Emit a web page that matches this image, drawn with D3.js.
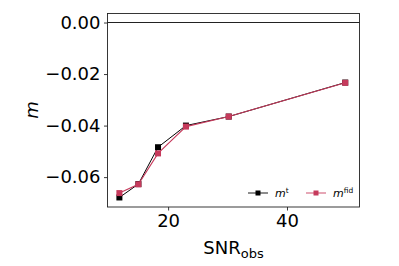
<!DOCTYPE html>
<head>
  <meta charset="utf-8">
  <style>
    body { margin: 0; background: #fff; }
    text { font-family: "DejaVu Sans", sans-serif; }
  </style>
  <title>m vs SNR</title>
</head>
<body>
  <script src="https://cdn.jsdelivr.net/npm/d3@7/dist/d3.min.js"></script>
  <script>
    // data
    var snr = [11.8, 15, 18.3, 23, 30.2, 49.8];
    var mTrue = [-0.0679, -0.0627, -0.0484, -0.0400, -0.0365, -0.0233];
    var mFid = [-0.0662, -0.0628, -0.0508, -0.0404, -0.0365, -0.0234];
    var xTicks = [20, 40];
    var yTicks = [0, -0.02, -0.04, -0.06];

    var width = 399, height = 266;
    var padL = 107.5, padR = 359.5, padT = 13.5, padB = 207;
    var red = "#c63a5c";

    var svg = d3.select("body").append("svg").attr("width", width).attr("height", height);

    var x = d3.scaleLinear().domain([9.8, 52.2]).range([padL, padR]);
    var y = d3.scaleLinear().domain([-0.0716, 0.0035]).range([padB, padT]);

    // zero line
    svg.append("line").attr("x1", padL).attr("x2", padR)
      .attr("y1", y(0)).attr("y2", y(0)).attr("stroke", "#222").attr("stroke-width", 1.2);

    var line = d3.line().x(function(d) { return x(d[0]); }).y(function(d) { return y(d[1]); });
    var tData = snr.map(function(s, i) { return [s, mTrue[i]]; });
    var fData = snr.map(function(s, i) { return [s, mFid[i]]; });

    svg.append("path").datum(tData).attr("d", line).attr("fill", "none").attr("stroke", "#000").attr("stroke-width", 1);
    svg.selectAll("rect.t").data(tData).enter().append("rect").attr("class", "t")
      .attr("x", function(d) { return x(d[0]) - 3; }).attr("y", function(d) { return y(d[1]) - 3; })
      .attr("width", 6).attr("height", 6).attr("fill", "#000");

    svg.append("path").datum(fData).attr("d", line).attr("fill", "none").attr("stroke", red).attr("stroke-width", 1.1);
    svg.selectAll("rect.f").data(fData).enter().append("rect").attr("class", "f")
      .attr("x", function(d) { return x(d[0]) - 3; }).attr("y", function(d) { return y(d[1]) - 3; })
      .attr("width", 6).attr("height", 6).attr("fill", red);

    // axes
    var xAxis = d3.axisBottom(x).tickValues(xTicks).tickSize(3.5).tickPadding(3.5).tickFormat(d3.format("d"));
    var yAxis = d3.axisLeft(y).tickValues(yTicks).tickSize(3.5).tickPadding(3.5)
      .tickFormat(function(d) { return d3.format(".2f")(d).replace("-", "\u2212"); });
    var gx = svg.append("g").attr("transform", "translate(0," + padB + ")").call(xAxis);
    var gy = svg.append("g").attr("transform", "translate(" + padL + ",0)").call(yAxis);
    [gx, gy].forEach(function(g) {
      g.select(".domain").remove();
      g.selectAll("line").attr("stroke", "#222").attr("stroke-width", 0.9);
      g.selectAll("text").attr("font-size", 18).attr("fill", "#000").style("font-family", "DejaVu Sans");
    });

    svg.append("rect").attr("x", padL).attr("y", padT).attr("width", padR - padL).attr("height", padB - padT)
      .attr("fill", "none").attr("stroke", "#222").attr("stroke-width", 0.9);

    // labels
    var xl = svg.append("text").attr("x", (padL + padR) / 2).attr("y", 254).attr("text-anchor", "middle").attr("font-size", 18);
    xl.append("tspan").text("SNR");
    xl.append("tspan").attr("font-size", 13).attr("dy", 4).text("obs");

    svg.append("text").attr("transform", "translate(38,110) rotate(-90)").attr("text-anchor", "middle")
      .attr("font-size", 18).attr("font-style", "italic").text("m");

    // legend
    var legend = [{ c: "#000", sup: "t", x: 248 }, { c: red, sup: "fid", x: 306 }];
    legend.forEach(function(l) {
      var g = svg.append("g");
      g.append("line").attr("x1", l.x).attr("x2", l.x + 20).attr("y1", 193).attr("y2", 193)
        .attr("stroke", l.c).attr("stroke-width", 1.5).attr("stroke-opacity", 0.6);
      g.append("rect").attr("x", l.x + 7.5).attr("y", 190.5).attr("width", 5).attr("height", 5).attr("fill", l.c);
      var t = g.append("text").attr("x", l.x + 27).attr("y", 197).attr("font-size", 11);
      t.append("tspan").attr("font-style", "italic").text("m");
      t.append("tspan").attr("font-size", 7.5).attr("dy", -4).text(l.sup);
    });
  </script>
</body>
